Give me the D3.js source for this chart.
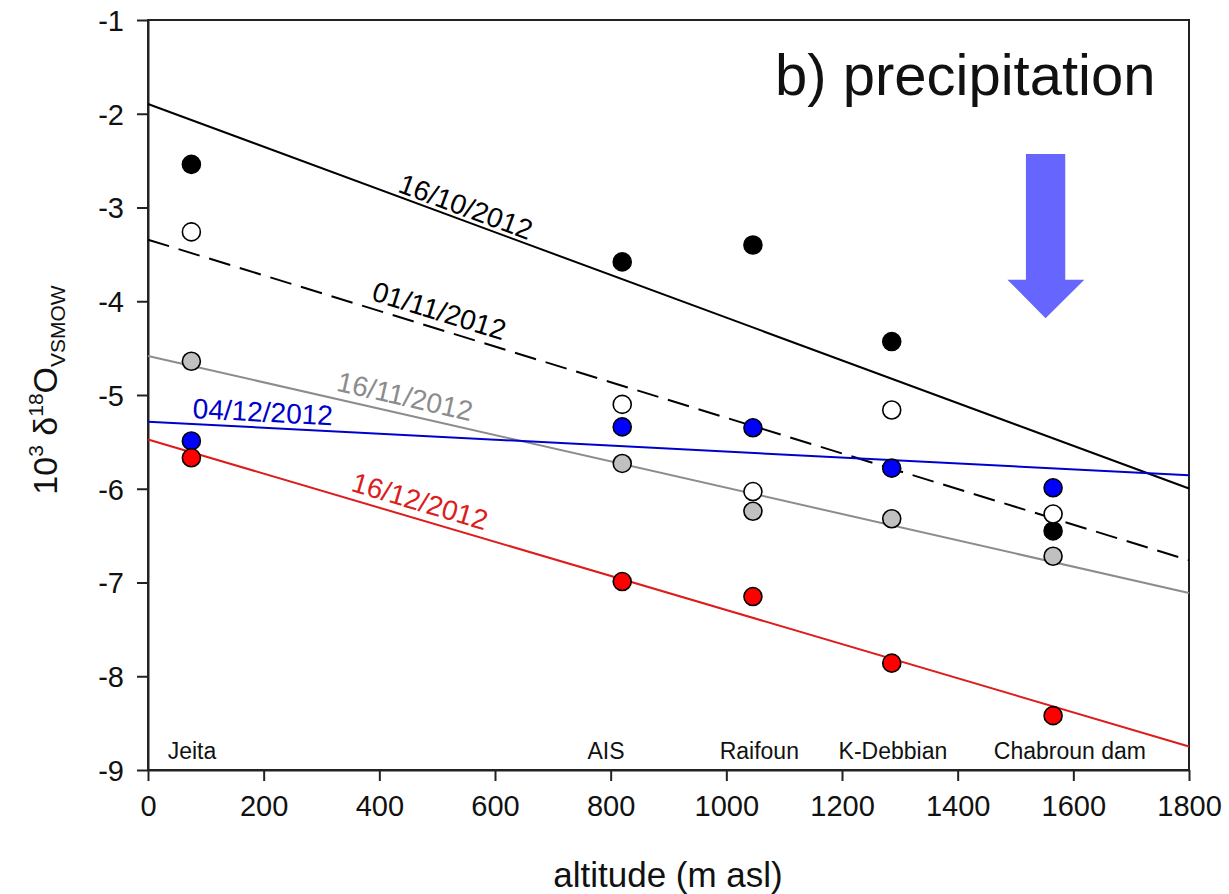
<!DOCTYPE html>
<html>
<head>
<meta charset="utf-8">
<script src="https://cdn.jsdelivr.net/npm/d3@7"></script>
<style>
  body { margin: 0; background: #fff; }
  svg { display: block; font-family: "Liberation Sans", Arial, sans-serif; }
</style>
</head>
<body>
<svg width="1229" height="894"></svg>
<script>
// sites and altitudes (m asl)
var sites = ["Jeita", "AIS", "Raifoun", "K-Debbian", "Chabroun dam"];
var altitudes = [75, 820, 1046, 1286, 1565];
var siteLabelX = [76, 792, 1057, 1288, 1594];

// d18O per sampling date
var dates = ["16/10/2012", "01/11/2012", "16/11/2012", "04/12/2012", "16/12/2012"];
var d16oct = [-2.54, -3.58, -3.40, -4.43, -6.45];
var d01nov = [-3.26, -5.10, -6.03, -5.16, -6.27];
var d16nov = [-4.64, -5.73, -6.24, -6.32, -6.72];
var d04dec = [-5.49, -5.34, -5.35, -5.78, -5.99];
var d16dec = [-5.67, -6.99, -7.15, -7.86, -8.42];

var xTicks = [0, 200, 400, 600, 800, 1000, 1200, 1400, 1600, 1800];
var yTicks = [-9, -8, -7, -6, -5, -4, -3, -2, -1];

var svg = d3.select("svg");
var margin = {left: 148, right: 1189, top: 20, bottom: 770};

var x = d3.scaleLinear().domain([0, 1800]).range([margin.left, margin.right]);
var y = d3.scaleLinear().domain([-9, -1]).range([margin.bottom, margin.top]);

// series styles (lx = label centre in px along the line, off = distance above line)
var series = [
  {name: dates[0], vals: d16oct, line: "#000", dash: null, fill: "#000", label: "#000", lx: 461, off: 13},
  {name: dates[1], vals: d01nov, line: "#000", dash: "22,10", fill: "#fff", label: "#000", lx: 434, off: 17},
  {name: dates[2], vals: d16nov, line: "#8c8c8c", dash: null, fill: "#c0c0c0", label: "#8c8c8c", lx: 401, off: 17},
  {name: dates[3], vals: d04dec, line: "#0000cc", dash: null, fill: "#0000ff", label: "#0000cc", lx: 262, off: 15},
  {name: dates[4], vals: d16dec, line: "#dd1c1c", dash: null, fill: "#ff0000", label: "#dd1c1c", lx: 415, off: 17}
];

// least squares fit
function fit(vals) {
  var mx = d3.mean(altitudes), my = d3.mean(vals);
  var sxy = d3.sum(altitudes, function (a, i) { return (a - mx) * (vals[i] - my); });
  var sxx = d3.sum(altitudes, function (a) { return (a - mx) * (a - mx); });
  var b = sxy / sxx;
  return {a: my - b * mx, b: b};
}

// frame
svg.append("rect")
  .attr("x", margin.left).attr("y", margin.top)
  .attr("width", margin.right - margin.left).attr("height", margin.bottom - margin.top)
  .attr("fill", "none").attr("stroke", "#222").attr("stroke-width", 2);

// axes
var xAxis = svg.append("g")
  .attr("transform", "translate(0," + margin.bottom + ")")
  .call(d3.axisBottom(x).tickValues(xTicks).tickSize(11).tickSizeOuter(0).tickPadding(14)
    .tickFormat(d3.format("d")));
var yAxis = svg.append("g")
  .attr("transform", "translate(" + margin.left + ",0)")
  .call(d3.axisLeft(y).tickValues(yTicks).tickSize(11).tickSizeOuter(0).tickPadding(13)
    .tickFormat(function (d) { return String(d); }));
[xAxis, yAxis].forEach(function (ax) {
  ax.select(".domain").attr("stroke", "#222").attr("stroke-width", 2);
  ax.selectAll(".tick line").attr("stroke", "#222").attr("stroke-width", 2);
  ax.selectAll(".tick text").attr("fill", "#111").attr("font-size", 29)
    .attr("font-family", "Liberation Sans, Arial, sans-serif");
});
xAxis.selectAll(".tick text").attr("dy", "0.71em");
yAxis.selectAll(".tick text").attr("dy", "0.36em");

// regression lines
var lines = svg.append("g");
series.forEach(function (s) {
  s.fit = fit(s.vals);
  lines.append("line")
    .attr("x1", x(0)).attr("y1", y(s.fit.a))
    .attr("x2", x(1800)).attr("y2", y(s.fit.a + s.fit.b * 1800))
    .attr("stroke", s.line).attr("stroke-width", 2)
    .attr("stroke-dasharray", s.dash);
});

// line labels
series.forEach(function (s) {
  var px = s.lx;
  var alt = x.invert(px);
  var py = y(s.fit.a + s.fit.b * alt);
  var ang = Math.atan2(y(s.fit.a + s.fit.b * 1800) - y(s.fit.a), x(1800) - x(0)) * 180 / Math.PI;
  svg.append("text")
    .attr("transform", "translate(" + px + "," + py + ") rotate(" + ang + ")")
    .attr("y", -s.off + 9)
    .attr("text-anchor", "middle")
    .attr("font-size", 28)
    .attr("fill", s.label)
    .text(s.name);
});

// points
series.forEach(function (s) {
  svg.append("g").selectAll("circle")
    .data(s.vals)
    .enter().append("circle")
    .attr("cx", function (d, i) { return x(altitudes[i]); })
    .attr("cy", function (d) { return y(d); })
    .attr("r", 9)
    .attr("fill", s.fill)
    .attr("stroke", "#000")
    .attr("stroke-width", 1.6);
});

// site labels
svg.append("g").selectAll("text")
  .data(sites)
  .enter().append("text")
  .attr("x", function (d, i) { return x(siteLabelX[i]); })
  .attr("y", 759)
  .attr("text-anchor", "middle")
  .attr("font-size", 23)
  .attr("fill", "#111")
  .text(function (d) { return d; });

// arrow (annotation, in data units)
var arrowPts = [[1518, -2.43], [1586, -2.43], [1586, -3.77], [1619, -3.77], [1552, -4.18], [1486, -3.77], [1518, -3.77]];
svg.append("path")
  .attr("d", d3.line().x(function (d) { return x(d[0]); }).y(function (d) { return y(d[1]); })(arrowPts) + "Z")
  .attr("fill", "#6666ff");

// title
svg.append("text")
  .attr("x", 775).attr("y", 95)
  .attr("font-size", 58)
  .attr("fill", "#111")
  .text("b) precipitation");

// x label
svg.append("text")
  .attr("x", 668).attr("y", 887)
  .attr("text-anchor", "middle")
  .attr("font-size", 35)
  .attr("fill", "#111")
  .text("altitude (m asl)");

// y label
var yl = svg.append("text")
  .attr("transform", "translate(57,390) rotate(-90)")
  .attr("text-anchor", "middle")
  .attr("font-size", 34)
  .attr("fill", "#111");
yl.append("tspan").text("10");
yl.append("tspan").attr("font-size", 21).attr("dy", -14).text("3");
yl.append("tspan").attr("dy", 14).text(" \u03b4");
yl.append("tspan").attr("font-size", 21).attr("dy", -14).text("18");
yl.append("tspan").attr("dy", 14).text("O");
yl.append("tspan").attr("font-size", 21).attr("dy", 8).text("VSMOW");
</script>
</body>
</html>
